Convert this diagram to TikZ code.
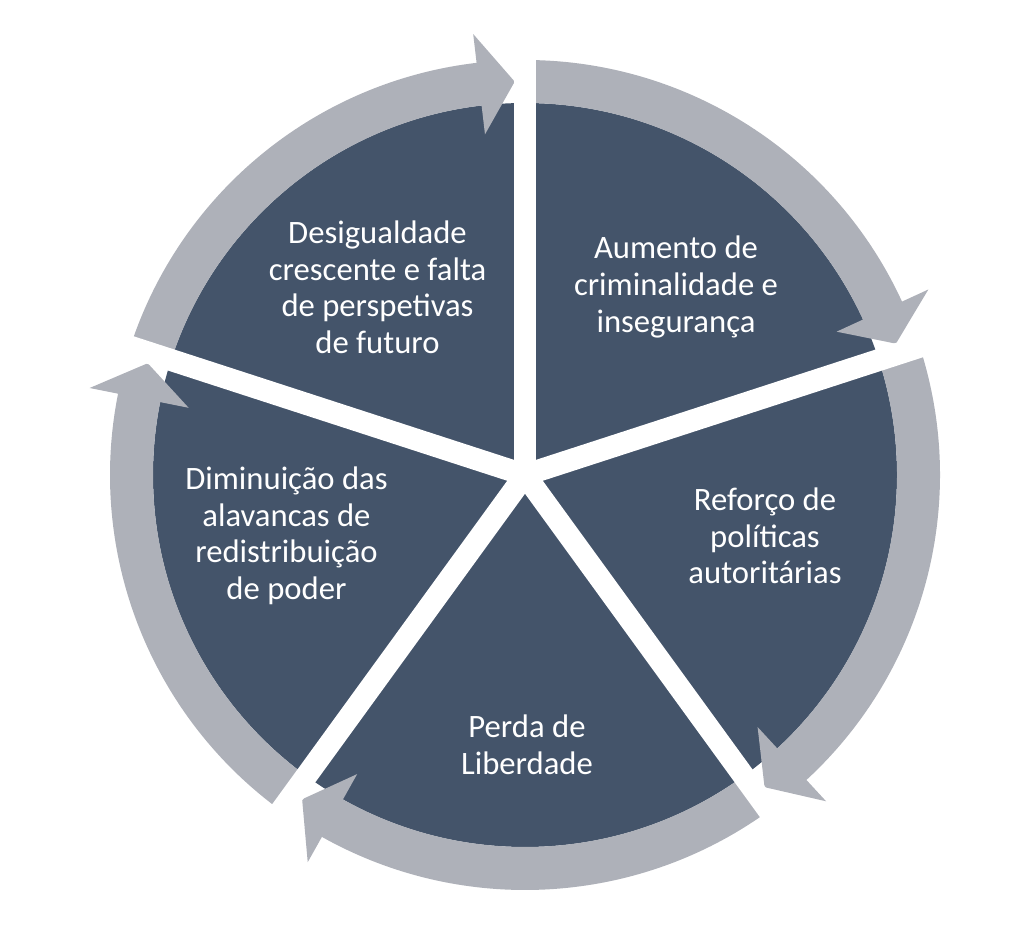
\documentclass[tikz,border=0pt]{standalone}
\usepackage{fontspec}
\setmainfont{Carlito}
\definecolor{slate}{HTML}{44546A}
\definecolor{ringgray}{RGB}{174,177,185}
\begin{document}
\begin{tikzpicture}[x=0.75pt,y=0.75pt,
cycletext/.style={text=white,align=center,font=\fontsize{24.5}{27.4}\selectfont},
gap/.style={white,line width=16.5pt}]

\useasboundingbox (-525,-463) rectangle (498,475);
\coordinate (O) at (0,0);

\fill[slate] (O) circle[radius=372];

% ring arrows, running clockwise
\foreach \a [evaluate=\a as \b using \a-72+6.7, evaluate=\a as \t using \a-72+1.5] in {162,90,18,-54,-126}
  \fill[ringgray] (\a:372) arc[start angle=\a, end angle=\b, radius=372]
    -- (\b:343) -- (\t:393.5) -- (\b:444) -- (\b:415)
    arc[start angle=\b, end angle=\a, radius=415] -- cycle;

% white cuts between the segments
\foreach \a in {90,18,-54,-126,162}
  \draw[gap] (O) -- (\a:425);

\node[cycletext] (inequality) at (-147.5,187.5) {Desigualdade\\crescente e falta\\de perspetivas\\de futuro};
\node[cycletext] (crime) at (151,188) {Aumento de\\criminalidade e\\insegurança};
\node[cycletext] (authority) at (240,-61) {Reforço de\\políticas\\autoritárias};
\node[cycletext] (freedom) at (2,-270) {Perda de\\Liberdade};
\node[cycletext] (power) at (-238.5,-61) {Diminuição das\\alavancas de\\redistribuição\\de poder};
\end{tikzpicture}
\end{document}
